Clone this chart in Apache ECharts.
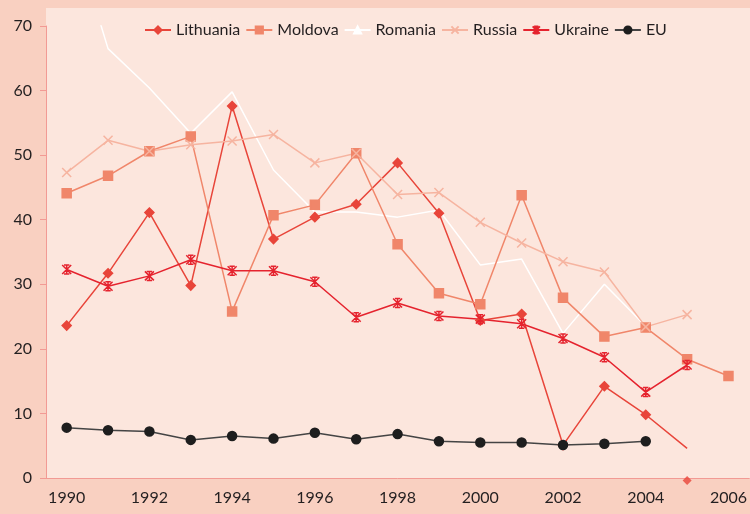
<!DOCTYPE html>
<html>
<head>
<meta charset="utf-8">
<script src="https://cdn.jsdelivr.net/npm/echarts@6/dist/echarts.min.js"></script>
<style>
  html, body { margin: 0; padding: 0; background: #f9d0c1; }
  #chart { width: 750px; height: 514px; }
</style>
</head>
<body>
<div id="chart"></div>
<script>
// years on the x axis
var years = ['1990','1991','1992','1993','1994','1995','1996','1997','1998','1999',
             '2000','2001','2002','2003','2004','2005','2006'];

var lithuania = [23.6, 31.7, 41.1, 29.8, 57.6, 37.0, 40.4, 42.4, 48.8, 41.0,
                 24.4, 25.4, 5.1, 14.2, 9.8, 4.6, null];
// stray Lithuania marker drawn just below the axis in 2005
var lithuaniaStray = [null, null, null, null, null, null, null, null, null, null,
                      null, null, null, null, null, -0.4, null];
var moldova = [44.1, 46.8, 50.6, 52.9, 25.8, 40.7, 42.3, 50.3, 36.2, 28.6,
               26.9, 43.8, 27.9, 21.9, 23.3, 18.4, 15.8];
var romania = [87.5, 66.5, 60.4, 53.4, 59.8, 47.7, 41.2, 41.2, 40.4, 41.5,
               33.0, 33.9, 22.4, 30.0, 23.5, null, null];
var russia = [47.3, 52.3, 50.6, 51.6, 52.2, 53.2, 48.8, 50.3, 43.9, 44.2,
              39.6, 36.4, 33.5, 31.9, 23.4, 25.3, null];
var ukraine = [32.3, 29.7, 31.3, 33.8, 32.1, 32.1, 30.4, 24.9, 27.1, 25.1,
               24.6, 23.9, 21.6, 18.7, 13.3, 17.5, null];
var eu = [7.8, 7.4, 7.2, 5.9, 6.5, 6.1, 7.0, 6.0, 6.8, 5.7,
          5.5, 5.5, 5.1, 5.3, 5.7, null, null];

var yTicks = [0, 10, 20, 30, 40, 50, 60, 70];

var chart = echarts.init(document.getElementById('chart'));

var xSym = 'path://M0,0L10,10M10,0L0,10';
var starSym = 'path://M0,0L10,10M10,0L0,10M5,0L5,10M2,0L8,0M2,10L8,10';

// 2005 point of Lithuania has no marker in the original
var lithData = lithuania.map(function (v, i) {
  return i === 15 ? { value: v, symbol: 'none' } : v;
});

function lineSeries(name, data, color, symbol, size, extra) {
  var s = {
    name: name,
    type: 'line',
    data: data,
    symbol: symbol,
    symbolSize: size,
    showAllSymbol: true,
    lineStyle: { color: color, width: 1.5 },
    itemStyle: { color: color, borderColor: color, borderWidth: 1.5 },
    emphasis: { disabled: true },
    animation: false
  };
  for (var k in extra) s[k] = extra[k];
  return s;
}

chart.setOption({
  backgroundColor: '#f9d0c1',
  textStyle: { fontFamily: 'Lato' },
  graphic: [{
    type: 'rect',
    z: -10,
    silent: true,
    shape: { x: 46, y: 8, width: 704, height: 470 },
    style: { fill: '#fce6dd' }
  }],
  grid: { left: 46, right: 0, top: 26, bottom: 36 },
  legend: {
    top: 17,
    left: 139,
    itemWidth: 26,
    itemHeight: 9,
    itemGap: 5,
    textStyle: { fontSize: 16, color: '#231f20', fontFamily: 'Lato' },
    data: ['Lithuania', 'Moldova', 'Romania', 'Russia', 'Ukraine', 'EU']
  },
  xAxis: {
    type: 'category',
    data: years,
    boundaryGap: true,
    axisLine: { lineStyle: { color: '#f29a94', width: 1 } },
    axisTick: { interval: 0, length: 5, lineStyle: { color: '#f29a94' } },
    axisLabel: { interval: 1, color: '#231f20', fontSize: 16, margin: 12 }
  },
  yAxis: {
    type: 'value',
    min: yTicks[0],
    max: yTicks[yTicks.length - 1],
    interval: 10,
    splitLine: { show: false },
    axisLine: { show: true, lineStyle: { color: '#f29a94', width: 1 } },
    axisTick: { show: true, length: 6, lineStyle: { color: '#f29a94' } },
    axisLabel: { color: '#231f20', fontSize: 16, margin: 14 }
  },
  series: [
    lineSeries('Lithuania', lithData, '#e8453a', 'diamond', 9, {}),
    {
      name: 'Lithuania',
      type: 'scatter',
      data: lithuaniaStray,
      symbol: 'diamond',
      symbolSize: 9,
      clip: false,
      itemStyle: { color: '#e8453a' },
      emphasis: { disabled: true },
      animation: false
    },
    lineSeries('Moldova', moldova, '#f0866a', 'rect', 9, {}),
    lineSeries('Romania', romania, '#ffffff', 'triangle', 6, { z: 1, showSymbol: false }),
    lineSeries('Russia', russia, '#f6b4a0', xSym, 9, {}),
    lineSeries('Ukraine', ukraine, '#e5232e', starSym, 9, {}),
    lineSeries('EU', eu, '#1e1e1e', 'circle', 9, {
      lineStyle: { color: '#444444', width: 1.5 }
    })
  ]
});
</script>
</body>
</html>
